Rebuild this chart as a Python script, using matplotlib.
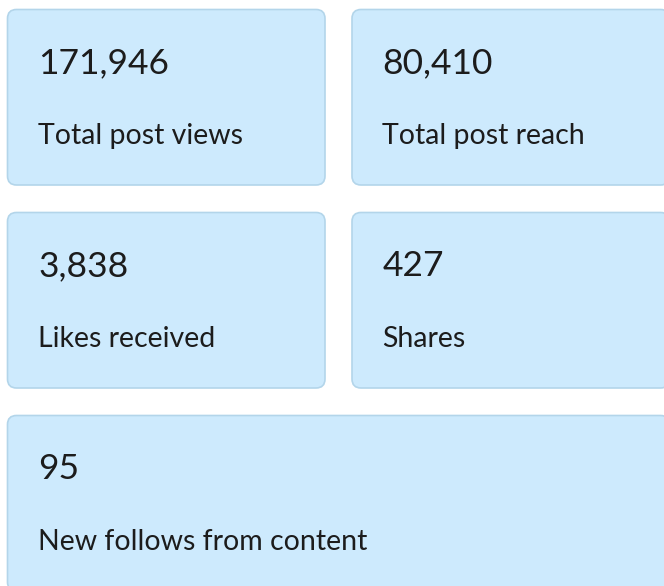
import matplotlib
matplotlib.use("Agg")
import matplotlib.pyplot as plt
from matplotlib.patches import FancyBboxPatch

values = [171946, 80410, 3838, 427, 95]
labels = ["Total post views", "Total post reach", "Likes received", "Shares",
          "New follows from content"]
# grid position (row, col, colspan)
cells = [(0, 0, 1), (0, 1, 1), (1, 0, 1), (1, 1, 1), (2, 0, 2)]

W, H = 664, 586
fig = plt.figure(figsize=(W / 100, H / 100), dpi=100)
ax = fig.add_axes([0, 0, 1, 1])
ax.set_xlim(0, W)
ax.set_ylim(H, 0)
ax.axis("off")

x0, y0 = 7.5, 9.5
cw, ch = 317.5, 175.5
gx, gy = 27, 27.5
fill = "#cdeafd"
edge = "#b3d5ea"
txt = "#1c1c1c"
fam = ["Lato", "DejaVu Sans"]

for v, lab, (r, c, span) in zip(values, labels, cells):
    left = x0 + c * (cw + gx)
    top = y0 + r * (ch + gy)
    width = cw * span + gx * (span - 1)
    box = FancyBboxPatch((left, top), width, ch,
                         boxstyle="round,pad=0,rounding_size=9",
                         facecolor=fill, edgecolor=edge, linewidth=1.2,
                         clip_on=False)
    ax.add_patch(box)
    ax.text(left + 30.5, top + 63.5, f"{v:,}", fontsize=25.5, color=txt,
            family=fam, va="baseline", ha="left")
    ax.text(left + 30.5, top + 134.5, lab, fontsize=20.5, color=txt,
            family=fam, va="baseline", ha="left")

fig.savefig("out.png", dpi=100)
